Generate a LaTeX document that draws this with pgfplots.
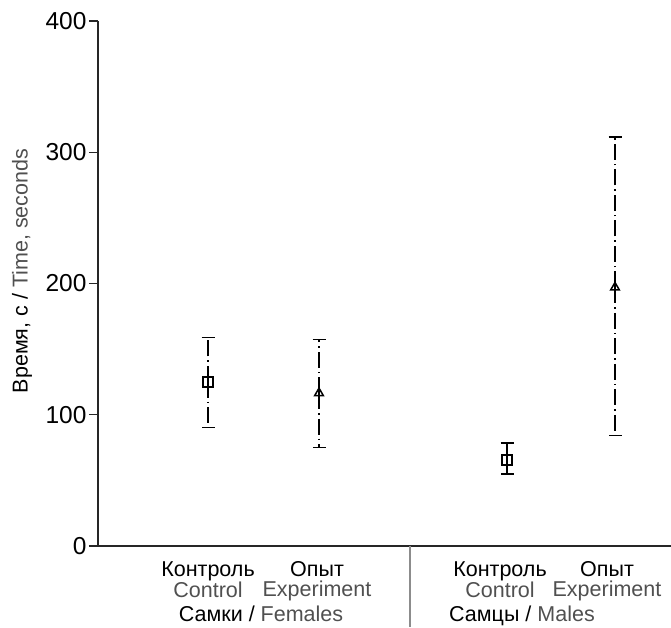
\documentclass[border=0pt]{standalone}
\usepackage{fontspec}
\setmainfont{Liberation Sans}
\usepackage{pgfplots}
\pgfplotsset{compat=1.18}

\definecolor{engl}{HTML}{505050}
\definecolor{sep}{HTML}{8C8C8C}

\begin{document}
\begin{tikzpicture}
\begin{axis}[
    at={(0pt,0pt)}, anchor=south west,
    scale only axis,
    width=573pt, height=525pt,
    xmin=0, xmax=573,
    ymin=0, ymax=400,
    axis x line=bottom, axis y line=left,
    axis line style={-, line width=1.3pt, black!85},
    ytick={0,100,200,300,400},
    yticklabel={\fontsize{24.5}{26}\selectfont\pgfmathprintnumber[assume math mode=true]{\tick}},
    y tick label style={xshift=1pt},
    xtick={110,219,402,509},
    xticklabels={
      Контроль\\{\color{engl}Control},
      Опыт\\{\color{engl}Experiment},
      Контроль\\{\color{engl}Control},
      Опыт\\{\color{engl}Experiment}},
    x tick label style={align=center, font=\fontsize{21.5}{20}\selectfont,
      anchor=north, yshift=-3pt},
    tick align=outside,
    major tick length=9pt,
    x tick style={draw=none},
    y tick style={line width=1.3pt, black!85},
    ylabel={Время, с / {\color{engl}Time, seconds}},
    ylabel style={at={(axis description cs:-0.1326,0.524)}, anchor=center,
      font=\fontsize{21.5}{24}\selectfont},
    clip=false,
]
\addplot[
    only marks,
    mark=square,
    mark size=5pt,
    mark options={line width=1.5pt, solid, fill=white},
    error bars/.cd,
      y dir=both, y explicit,
      error bar style={line width=1.4pt, dash pattern=on 16pt off 4pt on 1.5pt off 4pt},
      error mark options={rotate=90, mark size=6.5pt, line width=1.4pt, solid},
] coordinates {
    (110,125) +=(0,34) -=(0,34.5)
    (409,65.5) +=(0,13) -=(0,10.5)
};
\addplot[
    only marks,
    mark=triangle,
    mark size=5pt,
    mark options={line width=1.5pt, solid, fill=white},
    error bars/.cd,
      y dir=both, y explicit,
      error bar style={line width=1.4pt, dash pattern=on 16pt off 4pt on 1.5pt off 4pt},
      error mark options={rotate=90, mark size=6.5pt, line width=1.4pt, solid},
] coordinates {
    (221,116.5) +=(0,41) -=(0,41.5)
    (517,197) +=(0,114.5) -=(0,113)
};
\draw[sep, line width=1.3pt] (axis cs:312,0) -- ++(0pt,-81pt);
\node[anchor=base, font=\fontsize{21.5}{24}\selectfont] at ([yshift=-75pt]axis cs:163,0)
    {Самки / {\color{engl}Females}};
\node[anchor=base, font=\fontsize{21.5}{24}\selectfont] at ([yshift=-75pt]axis cs:424,0)
    {Самцы / {\color{engl}Males}};
\end{axis}
\pgfresetboundingbox
\useasboundingbox (-98pt,-81pt) rectangle (573pt,546pt);
\end{tikzpicture}
\end{document}
